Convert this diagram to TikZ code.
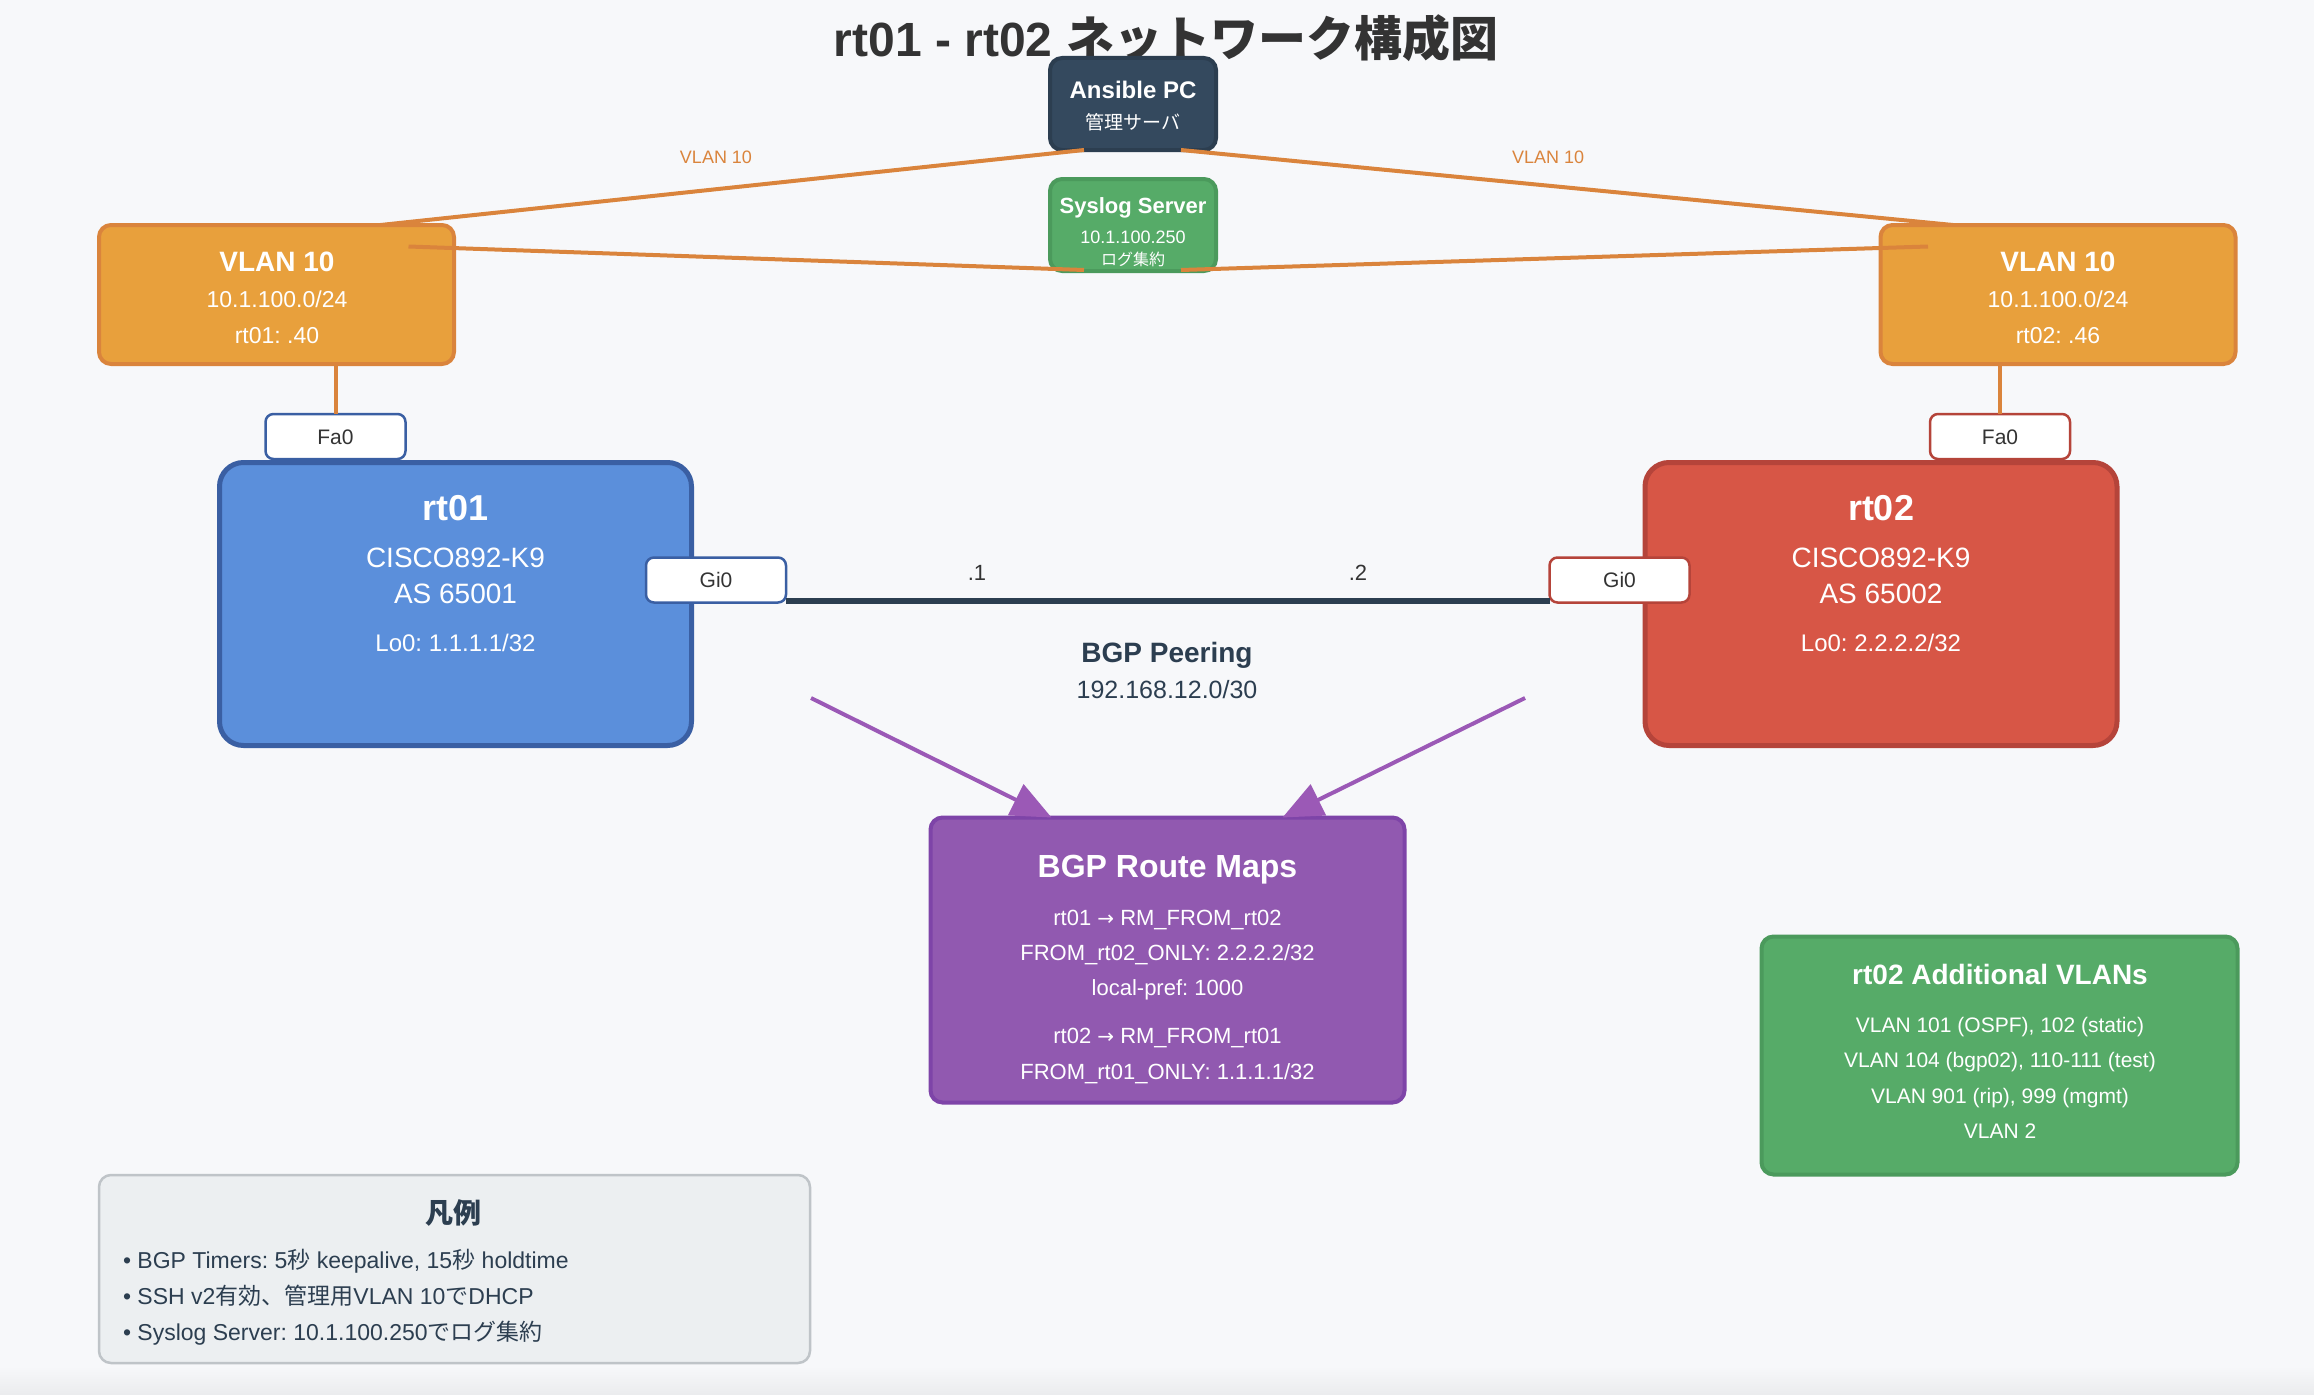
\documentclass[tikz,border=0pt]{standalone}
\usepackage{fontspec}
\setmainfont{Liberation Sans}
\newfontfamily\jp{Noto Sans CJK JP}
\newfontfamily\dvs{DejaVu Sans}
\usetikzlibrary{arrows.meta,calc}
\frenchspacing
\newcommand\fsz[1]{\fontsize{#1pt}{#1pt}\selectfont}
\newcommand\rarr{ {\dvs\fontsize{20pt}{20pt}\selectfont →} }
\definecolor{bgc}{HTML}{F7F8FA}
\definecolor{titlec}{HTML}{333333}
\definecolor{navy}{HTML}{34495E}
\definecolor{navyb}{HTML}{2C3E50}
\definecolor{grn}{HTML}{56AB68}
\definecolor{grnb}{HTML}{4B9A5C}
\definecolor{org}{HTML}{E8A03C}
\definecolor{orgb}{HTML}{DA843C}
\definecolor{blu}{HTML}{5B8FDB}
\definecolor{blub}{HTML}{3A5FA3}
\definecolor{red2}{HTML}{D75646}
\definecolor{redb}{HTML}{B5443A}
\definecolor{pur}{HTML}{9159B0}
\definecolor{purb}{HTML}{7E44A8}
\definecolor{purl}{HTML}{9B59B6}
\definecolor{legf}{HTML}{ECEFF1}
\definecolor{legb}{HTML}{BFC4C8}
\begin{document}
\begin{tikzpicture}[x=1pt,y=-1pt,
  box/.style={inner sep=0pt, outer sep=0pt, rounded corners=12pt, line width=4pt},
  port/.style={inner sep=0pt, outer sep=0pt, rounded corners=8pt, line width=2.5pt, fill=white, minimum width=140pt, minimum height=45pt},
  lbl/.style={anchor=base, inner sep=0pt, outer sep=0pt},
  wl/.style={lbl, text=white},
  orgline/.style={draw=orgb, line width=4pt},
  purarrow/.style={draw=purl, line width=4pt, -{Triangle[length=40pt,width=34pt]}}]
\useasboundingbox (0,0) rectangle (2314,1394);
\fill[bgc] (0,0) rectangle (2314,1394);
\shade[top color=bgc, bottom color=bgc!90!gray] (0,1366) rectangle (2314,1394);

% title
\node[lbl, text=titlec] (title) at (1166,57) {\fsz{48}\bfseries rt01 - rt02 {\jp ネットワーク構成図}};

% boxes
\node[box, fill=navy, draw=navyb, minimum width=166pt, minimum height=92pt] (ansible) at (1133,104) {};
\node[box, fill=grn, draw=grnb, minimum width=166pt, minimum height=92pt] (syslog) at (1133,225) {};
\node[box, fill=org, draw=orgb, minimum width=355pt, minimum height=139pt] (vlanL) at (276.5,294.5) {};
\node[box, fill=org, draw=orgb, minimum width=355pt, minimum height=139pt] (vlanR) at (2058,294.5) {};
\node[box, rounded corners=24pt, line width=5pt, fill=blu, draw=blub, minimum width=472pt, minimum height=283pt] (rt01) at (455.5,604) {};
\node[box, rounded corners=24pt, line width=5pt, fill=red2, draw=redb, minimum width=472pt, minimum height=283pt] (rt02) at (1881,604) {};
\node[port, draw=blub] (fa0L) at (335.5,436.5) {};
\node[port, draw=redb] (fa0R) at (2000,436.5) {};
\node[port, draw=blub] (gi0L) at (716,580) {};
\node[port, draw=redb] (gi0R) at (1619.5,580) {};
\node[box, fill=pur, draw=purb, minimum width=474pt, minimum height=285pt] (rm) at (1167.5,960) {};
\node[box, fill=grn, draw=grnb, minimum width=476pt, minimum height=238pt] (addl) at (1999.5,1055.5) {};
\node[box, line width=2.5pt, fill=legf, draw=legb, minimum width=711pt, minimum height=188pt] (legend) at (454.5,1269) {};

% connectors
\draw[orgline] ($(ansible.south)+(-49,0)$) -- ($(vlanL.north)+(104,0)$);
\draw[orgline] ($(ansible.south)+(48,0)$) -- ($(vlanR.north)+(-105,0)$);
\draw[orgline] ($(vlanL.center)+(132,-48)$) -- ($(syslog.south)+(-49,-1)$);
\draw[orgline] ($(syslog.south)+(48,-1)$) -- ($(vlanR.center)+(-130,-48)$);
\draw[orgline] (fa0L.north |- vlanL.south) -- (fa0L.north);
\draw[orgline] (fa0R.north |- vlanR.south) -- (fa0R.north);
\draw[draw=navyb, line width=6pt] ($(gi0L.east)+(0,21)$) -- ($(gi0R.west)+(0,21)$);
\coordinate (pl) at (811,698);
\coordinate (pr) at (1525,698);
\draw[purarrow] (pl) -- ($(rm.north)+(-116,0)$);
\draw[purarrow] (pr) -- ($(rm.north)+(115,0)$);

% link labels
\node[lbl, text=orgb] (v10l) at (716,163) {\fsz{18}VLAN 10};
\node[lbl, text=orgb] (v10r) at (1548,163) {\fsz{18}VLAN 10};
\node[lbl, text=titlec] (ip1) at (977,580) {\fsz{22}.1};
\node[lbl, text=titlec] (ip2) at (1358,580) {\fsz{22}.2};
\node[lbl, text=navyb] (bgpp) at (1167,662) {\fsz{28}\bfseries BGP Peering};
\node[lbl, text=navyb] (bgpnet) at (1167,698) {\fsz{25}192.168.12.0/30};

% ansible / syslog text
\node[wl] (ansT) at (1133,99) {\fsz{24}\bfseries Ansible PC};
\node[wl] (ansS) at (1133,130) {\fsz{19}\jp 管理サーバ};
\node[wl] (sysT) at (1133,213) {\fsz{22}\bfseries Syslog Server};
\node[wl] (sysIP) at (1133,243) {\fsz{18}10.1.100.250};
\node[wl] (sysS) at (1133,265) {\fsz{16}\jp ログ集約};

% vlan boxes text
\node[wl] (vlT) at (277,271) {\fsz{28}\bfseries VLAN 10};
\node[wl] (vlN) at (277,307) {\fsz{23}10.1.100.0/24};
\node[wl] (vlA) at (277,343) {\fsz{23}rt01: .40};
\node[wl] (vrT) at (2058,271) {\fsz{28}\bfseries VLAN 10};
\node[wl] (vrN) at (2058,307) {\fsz{23}10.1.100.0/24};
\node[wl] (vrA) at (2058,343) {\fsz{23}rt02: .46};

% ports text
\node[lbl, text=titlec] (fa0Lt) at (335.5,444) {\fsz{21}Fa0};
\node[lbl, text=titlec] (fa0Rt) at (2000,444) {\fsz{21}Fa0};
\node[lbl, text=titlec] (gi0Lt) at (716,587) {\fsz{21}Gi0};
\node[lbl, text=titlec] (gi0Rt) at (1619.5,587) {\fsz{21}Gi0};

% routers text
\node[wl] (r1T) at (455.5,520) {\fsz{36}\bfseries rt01};
\node[wl] (r1M) at (455.5,567) {\fsz{28}CISCO892-K9};
\node[wl] (r1A) at (455.5,603) {\fsz{28}AS 65001};
\node[wl] (r1L) at (455.5,651) {\fsz{24}Lo0: 1.1.1.1/32};
\node[wl] (r2T) at (1881,520) {\fsz{36}\bfseries rt02};
\node[wl] (r2M) at (1881,567) {\fsz{28}CISCO892-K9};
\node[wl] (r2A) at (1881,603) {\fsz{28}AS 65002};
\node[wl] (r2L) at (1881,651) {\fsz{24}Lo0: 2.2.2.2/32};

% route maps text
\node[wl] (rmT) at (1167.5,877) {\fsz{32}\bfseries BGP Route Maps};
\node[wl] (rm1) at (1167.5,925) {\fsz{22}rt01\rarr RM\_FROM\_rt02};
\node[wl] (rm2) at (1167.5,960) {\fsz{22}FROM\_rt02\_ONLY: 2.2.2.2/32};
\node[wl] (rm3) at (1167.5,995) {\fsz{22}local-pref: 1000};
\node[wl] (rm4) at (1167.5,1043) {\fsz{22}rt02\rarr RM\_FROM\_rt01};
\node[wl] (rm5) at (1167.5,1079) {\fsz{22}FROM\_rt01\_ONLY: 1.1.1.1/32};

% additional vlans text
\node[wl] (adT) at (2000,984) {\fsz{28}\bfseries rt02 Additional VLANs};
\node[wl] (ad1) at (2000,1032) {\fsz{21}VLAN 101 (OSPF), 102 (static)};
\node[wl] (ad2) at (2000,1067) {\fsz{21}VLAN 104 (bgp02), 110-111 (test)};
\node[wl] (ad3) at (2000,1103) {\fsz{21}VLAN 901 (rip), 999 (mgmt)};
\node[wl] (ad4) at (2000,1138) {\fsz{21}VLAN 2};

% legend text
\node[lbl, text=navyb] (lgT) at (453,1223) {\fsz{28}\jp\bfseries 凡例};
\node[lbl, text=navyb, anchor=base west] (lg1) at (123,1268) {\fsz{23}• BGP Timers: 5{\jp 秒} keepalive, 15{\jp 秒} holdtime};
\node[lbl, text=navyb, anchor=base west] (lg2) at (123,1304) {\fsz{23}• SSH v2{\jp 有効、管理用}VLAN 10{\jp で}DHCP};
\node[lbl, text=navyb, anchor=base west] (lg3) at (123,1340) {\fsz{23}• Syslog Server: 10.1.100.250{\jp でログ集約}};
\end{tikzpicture}
\end{document}
